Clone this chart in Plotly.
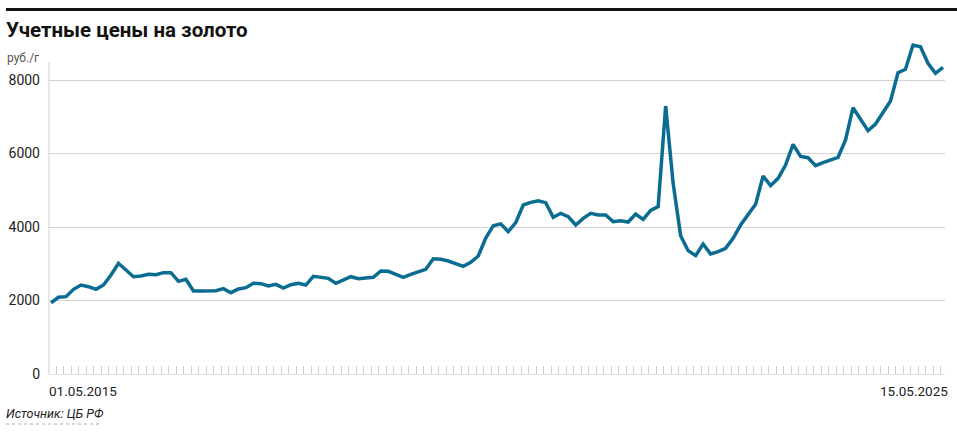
import plotly.graph_objects as go

# monthly gold accounting prices, rub per gram (01.05.2015 - 15.05.2025)
prices = [
    1940, 2087, 2104, 2304, 2421, 2376, 2304, 2421, 2694, 3012,
    2830, 2648, 2667, 2712, 2703, 2757, 2757, 2522, 2576, 2258,
    2258, 2267, 2267, 2322, 2213, 2313, 2349, 2467, 2458, 2394,
    2440, 2340, 2430, 2467, 2421, 2658, 2630, 2603, 2467, 2558,
    2648, 2594, 2603, 2630, 2803, 2794, 2712, 2630, 2712, 2785,
    2848, 3137, 3121, 3075, 3003, 2930, 3039, 3211, 3700, 4035,
    4085, 3872, 4117, 4599, 4671, 4716, 4662, 4263, 4372, 4281,
    4054, 4236, 4372, 4326, 4326, 4145, 4172, 4136, 4354, 4209,
    4450, 4553, 7292, 5189, 3764, 3356, 3220, 3537, 3265, 3329,
    3420, 3692, 4054, 4354, 4617, 5388, 5125, 5325, 5687, 6250,
    5920, 5886, 5668, 5750, 5823, 5896, 6367, 7246, 6930, 6621,
    6803, 7110, 7428, 8199, 8290, 8952, 8906, 8454, 8181, 8345,
]
months = list(range(len(prices)))
y_ticks = [0, 2000, 4000, 6000, 8000]
first_date = "01.05.2015"
last_date = "15.05.2025"

TITLE = "Учетные цены на золото"
UNIT = "руб./г"
SOURCE = "Источник: ЦБ РФ"

FONT = "Roboto, Arial, sans-serif"
LINE_COLOR = "#0b6c92"
GRID = "#d4d4d4"

W, H = 957, 433
L, R, T, B = 49, 12, 35, 59
plot_w = W - L - R
plot_h = H - T - B


def px_x(p):
    return (p - L) / plot_w


def px_y(p):
    return (H - B - p) / plot_h


pad = 0.27
y_top = 8490  # top of the drawn value axis

fig = go.Figure()
fig.add_trace(go.Scatter(
    x=months,
    y=prices,
    mode="lines",
    line={"color": LINE_COLOR, "width": 3.5},
    hoverinfo="skip",
    showlegend=False,
))

fig.update_layout(
    width=W,
    height=H,
    margin={"l": L, "r": R, "t": T, "b": B, "autoexpand": False},
    plot_bgcolor="white",
    paper_bgcolor="white",
    font={"family": FONT, "size": 14, "color": "#222"},
    title={
        "text": f"<b>{TITLE}</b>",
        "x": 6 / W,
        "xanchor": "left",
        "y": 1 - 30 / H,
        "yanchor": "middle",
        "font": {"family": FONT, "size": 20.5, "color": "#111"},
    },
)

fig.update_xaxes(
    range=[-pad, len(prices) - 1 + pad],
    automargin=False,
    showgrid=False,
    zeroline=False,
    showline=True,
    linecolor="#e0e0e0",
    linewidth=1,
    ticks="inside",
    ticklen=8,
    tickcolor="#cfcfcf",
    tickwidth=1,
    tickmode="linear",
    tick0=-pad,
    dtick=1,
    showticklabels=False,
)

fig.update_yaxes(
    range=[0, (H - B - T) * 8000 / 294],
    automargin=False,
    tickvals=y_ticks,
    showgrid=True,
    gridcolor=GRID,
    gridwidth=1,
    zeroline=False,
    showline=False,
    ticks="",
    ticklabelstandoff=8,
    tickfont={"size": 14, "color": "#222"},
)

# value axis line stops just above 8000
fig.add_shape(type="line", xref="paper", yref="y",
              x0=0, x1=0, y0=0, y1=y_top,
              line={"color": "#cfcfcf", "width": 1})

# black rule at the top
fig.add_shape(type="rect", xref="paper", yref="paper",
              x0=px_x(6), x1=px_x(W), y0=px_y(11), y1=px_y(8),
              fillcolor="#111", line={"width": 0})

# dotted underline under the source
fig.add_shape(type="line", xref="paper", yref="paper",
              x0=px_x(6), x1=px_x(102), y0=px_y(424), y1=px_y(424),
              line={"color": "#aaa", "width": 1, "dash": "dot"})

fig.add_annotation(text=UNIT, xref="paper", yref="paper",
                   x=px_x(5), y=px_y(58), xanchor="left", yanchor="middle",
                   showarrow=False, font={"size": 12, "color": "#555"})
fig.add_annotation(text=first_date, xref="paper", yref="paper",
                   x=px_x(47), y=px_y(391), xanchor="left", yanchor="middle",
                   showarrow=False, font={"size": 13.5, "color": "#222"})
fig.add_annotation(text=last_date, xref="paper", yref="paper",
                   x=px_x(950), y=px_y(391), xanchor="right", yanchor="middle",
                   showarrow=False, font={"size": 13.5, "color": "#222"})
fig.add_annotation(text=f"<i>{SOURCE}</i>", xref="paper", yref="paper",
                   x=px_x(4), y=px_y(413), xanchor="left", yanchor="middle",
                   showarrow=False, font={"size": 12.5, "color": "#222"})

# the page's default body margin would shift the whole figure by 8px
fig.write_html(
    "out.html",
    config={"displayModeBar": False},
    post_script="document.body.style.margin='0';document.body.style.overflow='hidden';",
)
